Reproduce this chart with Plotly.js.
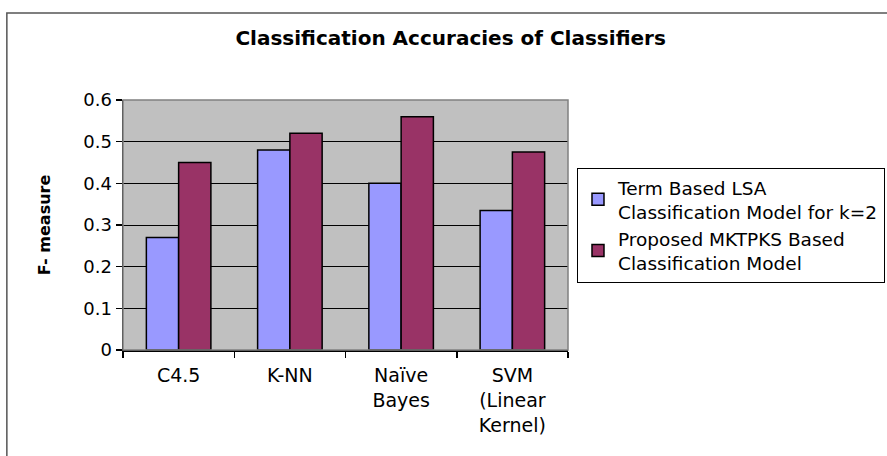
<!DOCTYPE html>
<html>
<head>
<meta charset="utf-8">
<script src="https://cdn.plot.ly/plotly-3.0.1.min.js"></script>
<style>
  html, body { margin: 0; padding: 0; background: #ffffff; }
  #chart { width: 887px; height: 456px; }
</style>
</head>
<body>
<div id="chart"></div>
<script>
// ---- Data ----
const categories = ["C4.5", "K-NN", "Naïve<br>Bayes", "SVM<br>(Linear<br>Kernel)"];
const lsaValues = [0.27, 0.48, 0.40, 0.335];
const mktpksValues = [0.45, 0.52, 0.56, 0.475];
const seriesNames = [
  "Term Based LSA<br>Classification Model for k=2",
  "Proposed MKTPKS Based<br>Classification Model"
];
const yTickValues = [0, 0.1, 0.2, 0.3, 0.4, 0.5, 0.6];

const FONT = "DejaVu Sans, Liberation Sans, Arial, sans-serif";

const traces = [
  {
    type: "bar",
    name: seriesNames[0],
    x: categories,
    y: lsaValues,
    marker: { color: "#9999FF", line: { color: "#000000", width: 1.5 } },
    hoverinfo: "x+y"
  },
  {
    type: "bar",
    name: seriesNames[1],
    x: categories,
    y: mktpksValues,
    marker: { color: "#993366", line: { color: "#000000", width: 1.5 } },
    hoverinfo: "x+y"
  }
];

const layout = {
  width: 887,
  height: 456,
  margin: { l: 123, r: 319, t: 100, b: 106, autoexpand: false },
  paper_bgcolor: "#ffffff",
  plot_bgcolor: "#C0C0C0",
  font: { family: FONT, color: "#000000", size: 18 },
  barmode: "group",
  bargap: 0.42,
  bargroupgap: 0,
  title: {
    text: "<b>Classification Accuracies of Classifiers</b>",
    font: { family: FONT, size: 20, color: "#000000" },
    x: 0.508,
    xanchor: "center",
    y: 0.917,
    yanchor: "middle"
  },
  xaxis: {
    type: "category",
    showline: true,
    linecolor: "#000000",
    linewidth: 1.5,
    ticks: "outside",
    tickson: "boundaries",
    ticklen: 6,
    tickcolor: "#000000",
    tickwidth: 1.5,
    ticklabelstandoff: 8,
    showgrid: false,
    tickfont: { family: FONT, size: 19, color: "#000000" },
    automargin: false,
    fixedrange: true
  },
  yaxis: {
    range: [0, 0.6],
    tickvals: yTickValues,
    ticktext: yTickValues.map(v => String(v)),
    showline: true,
    linecolor: "#000000",
    linewidth: 1.5,
    ticks: "outside",
    ticklen: 6,
    tickcolor: "#000000",
    tickwidth: 1.5,
    showgrid: true,
    gridcolor: "#000000",
    gridwidth: 1,
    zeroline: false,
    tickfont: { family: FONT, size: 18, color: "#000000" },
    title: {
      text: "<b>F- measure</b>",
      font: { family: FONT, size: 16, color: "#000000" },
      standoff: 28
    },
    automargin: false,
    fixedrange: true
  },
  legend: {
    xref: "container",
    yref: "container",
    x: 0.6505,
    xanchor: "left",
    y: 0.632,
    yanchor: "top",
    bgcolor: "#ffffff",
    bordercolor: "#000000",
    borderwidth: 1,
    font: { family: FONT, size: 18.5, color: "#000000" },
    traceorder: "normal"
  },
  shapes: [
    {
      type: "rect", xref: "paper", yref: "paper",
      x0: 0, x1: 1, y0: 0, y1: 1,
      line: { color: "#808080", width: 1.5 },
      fillcolor: "rgba(0,0,0,0)",
      layer: "above"
    },
    {
      type: "rect", xref: "paper", yref: "paper",
      x0: -0.261, x1: 1.8, y0: -0.6, y1: 1.348,
      line: { color: "#555555", width: 1.5 },
      fillcolor: "rgba(0,0,0,0)",
      layer: "below"
    }
  ],
  showlegend: true
};

Plotly.newPlot("chart", traces, layout, { displayModeBar: false, staticPlot: true });
</script>
</body>
</html>
